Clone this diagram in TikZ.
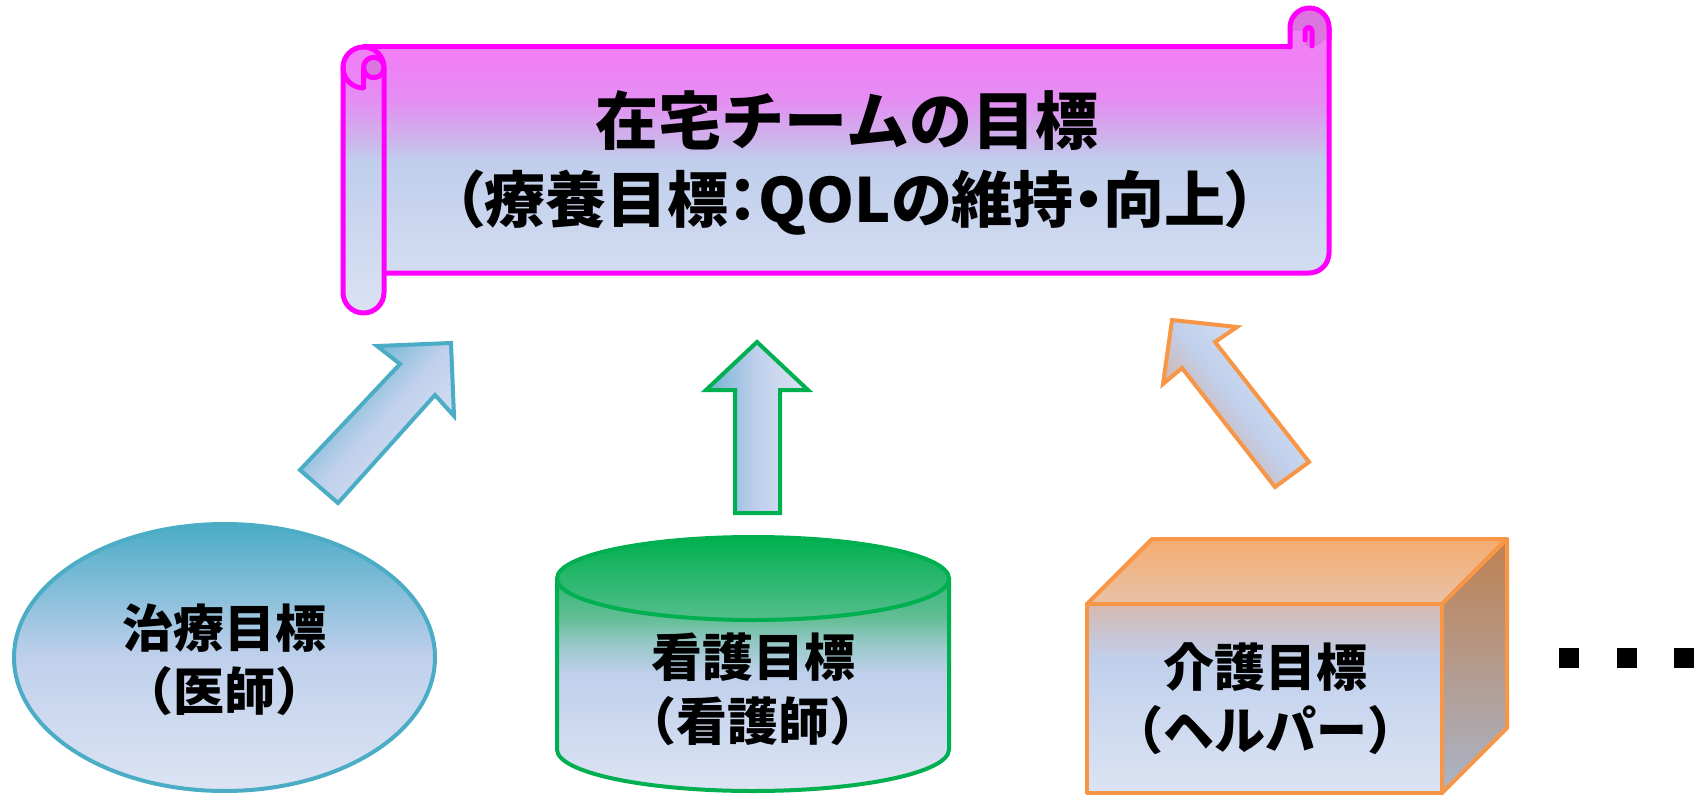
\documentclass[tikz,border=0pt]{standalone}
\usepackage{fontspec}
\newfontfamily\jp{Noto Sans CJK JP}
\newfontfamily\jpp[RawFeature=+palt]{Noto Sans CJK JP}
\usetikzlibrary{shapes.geometric}
\definecolor{mag}{RGB}{255,0,255}
\definecolor{sc1}{RGB}{218,226,243}
\definecolor{sc2}{RGB}{192,206,236}
\definecolor{sc3}{RGB}{205,180,235}
\definecolor{sc4}{RGB}{228,142,242}
\definecolor{sc5}{RGB}{240,128,246}
\definecolor{curlc}{RGB}{218,118,222}
\definecolor{tealc}{RGB}{75,172,198}
\definecolor{lb}{RGB}{192,208,236}
\definecolor{lb2}{RGB}{220,228,243}
\definecolor{grn}{RGB}{0,176,80}
\definecolor{cylg}{RGB}{100,190,150}
\definecolor{cylg2}{RGB}{150,200,200}
\definecolor{cyltop}{RGB}{85,190,140}
\definecolor{org}{RGB}{247,150,70}
\definecolor{cf1}{RGB}{214,186,175}
\definecolor{cf2}{RGB}{200,198,215}
\definecolor{ct1}{RGB}{245,172,112}
\definecolor{ct2}{RGB}{232,194,168}
\definecolor{cr1}{RGB}{190,128,80}
\definecolor{cr2}{RGB}{158,162,180}
\definecolor{cr3}{RGB}{170,180,200}
\definecolor{ar2l}{RGB}{115,178,212}
\definecolor{ar3o}{RGB}{228,158,122}
\pgfdeclareverticalshading{scrollsh}{100bp}{color(0bp)=(sc1); color(25bp)=(sc1); color(50bp)=(sc2); color(53.3bp)=(sc3); color(59.8bp)=(sc4); color(66bp)=(sc5); color(100bp)=(sc5)}
\pgfdeclareverticalshading{cylsh}{100bp}{color(0bp)=(lb2); color(25bp)=(lb2); color(48bp)=(lb); color(54bp)=(cylg2); color(59bp)=(cylg); color(75bp)=(grn); color(100bp)=(grn)}
\pgfdeclareverticalshading{cubefront}{100bp}{color(0bp)=(lb2); color(25bp)=(lb2); color(60bp)=(lb); color(66bp)=(cf2); color(75bp)=(cf1); color(100bp)=(cf1)}
\begin{document}
\begin{tikzpicture}[x=1pt,y=-1pt,
  scr/.style={draw=mag,line width=5pt,line join=round,line cap=round},
  blk/.style={line width=4pt,line join=miter},
  lbl/.style={font=\jp\bfseries\fontsize{51}{62}\selectfont,inner sep=0pt,anchor=base},
  ttl/.style={font=\jp\bfseries\fontsize{63}{78}\selectfont,inner sep=0pt,anchor=base},
  ttlp/.style={font=\jpp\bfseries\fontsize{61}{78}\selectfont,inner sep=0pt,anchor=base}]
\useasboundingbox (0,0) rectangle (1704,797);
% ---- scroll banner ----
\begin{scope}
  \clip (363.5,47) -- (1308.5,47) -- (1308.5,27) -- (1329,27) -- (1329,253)
        arc[start angle=0,end angle=90,radius=20] -- (363.5,273) -- cycle;
  \shade[shading=scrollsh] (330,7) rectangle (1340,313);
\end{scope}
\draw[scr] (363.5,47) -- (1290,47);
\draw[scr] (1329,27) -- (1329,253) arc[start angle=0,end angle=90,radius=20] -- (384,273);
% right curl
\fill[curlc] (1309.5,27.5) circle[radius=19.5];
\fill[sc5] (1290,47) -- (1290,31) -- (1305,31) -- (1305,47) -- cycle;
\draw[scr] (1290,47) -- (1290,27.5) arc[start angle=180,end angle=360,radius=19.5] -- (1329,40);
\draw[scr] (1305,40) -- (1305,31) arc[start angle=180,end angle=360,radius=3.5] -- (1312,46);
% left roll
\begin{scope}
  \clip (343,67.5) -- (343,292.5) arc[start angle=180,end angle=0,radius=20.5]
        -- (384,67.5) arc[start angle=0,end angle=-180,radius=20.5] -- cycle;
  \shade[shading=scrollsh] (330,7) rectangle (1340,313);
\end{scope}
\fill[curlc] (373.75,67.5) circle[radius=10.25];
\draw[scr] (343,67.5) -- (343,292.5) arc[start angle=180,end angle=0,radius=20.5]
        -- (384,67.5) arc[start angle=0,end angle=-180,radius=20.5] -- cycle;
\draw[scr] (373.75,67.5) circle[radius=10.25];
\draw[scr] (343,67.5) arc[start angle=180,end angle=90,radius=20.5] -- (363.5,67.5);
\node[ttl] (title1) at (847,144) {在宅チームの目標};
\node[ttlp] (title2) at (855,222) {（療養目標：QOLの維持・向上）};
% ---- arrows ----
\shadedraw[blk,draw=tealc,top color=tealc,bottom color=lb2,middle color=lb,shading angle=47.5]
  (300,470) -- (338,503) -- (435,395) -- (454,416) -- (451,343) -- (377,346) -- (400,364) -- cycle;
\shadedraw[blk,draw=grn,left color=ar2l,right color=lb2,middle color=lb]
  (757,342) -- (808,390) -- (780,390) -- (780,513) -- (735,513) -- (735,390) -- (706,390) -- cycle;
\shadedraw[blk,draw=org,top color=ar3o,bottom color=lb2,middle color=lb,shading angle=127.7]
  (1172,320) -- (1237,327) -- (1215,342) -- (1309,462) -- (1275,487) -- (1182,368) -- (1163,384) -- cycle;
% ---- ellipse ----
\node[ellipse,draw=tealc,line width=4pt,minimum width=421pt,minimum height=267pt,inner sep=0pt,
      top color=tealc,bottom color=lb2,middle color=lb] (doctor) at (224.5,657.5) {};
\node[lbl] (doc1) at (224.5,647) {治療目標};
\node[lbl] (doc2) at (224,710) {（医師）};
% ---- cylinder ----
\begin{scope}
  \clip (557,578.5) -- (557,749.5) arc[start angle=180,end angle=0,x radius=196,y radius=41.5] -- (949,578.5) -- cycle;
  \shade[shading=cylsh] (550,537) rectangle (956,791);
\end{scope}
\draw[draw=grn,line width=4pt] (557,578.5) -- (557,749.5) arc[start angle=180,end angle=0,x radius=196,y radius=41.5] -- (949,578.5);
\shadedraw[draw=grn,line width=4pt,top color=grn,bottom color=cyltop] (753,578.5) ellipse[x radius=196,y radius=41.5];
\node[lbl] (nur1) at (753,676) {看護目標};
\node[lbl] (nur2) at (753,740) {（看護師）};
% ---- cube ----
\shadedraw[draw=org,line width=4pt,line join=round,shading=cubefront] (1087,604) rectangle (1442,793);
\shadedraw[draw=org,line width=4pt,line join=round,top color=ct1,bottom color=ct2]
  (1087,604) -- (1152,539) -- (1507,539) -- (1442,604) -- cycle;
\shadedraw[draw=org,line width=4pt,line join=round,top color=cr1,middle color=cr2,bottom color=cr3]
  (1442,604) -- (1507,539) -- (1507,728) -- (1442,793) -- cycle;
\node[lbl] (help1) at (1265,686) {介護目標};
\node[lbl] (help2) at (1265,749) {（ヘルパー）};
% ---- dots ----
\fill (1559,648) rectangle (1579,668);
\fill (1617,648) rectangle (1637,668);
\fill (1674,648) rectangle (1694,668);
\end{tikzpicture}
\end{document}
